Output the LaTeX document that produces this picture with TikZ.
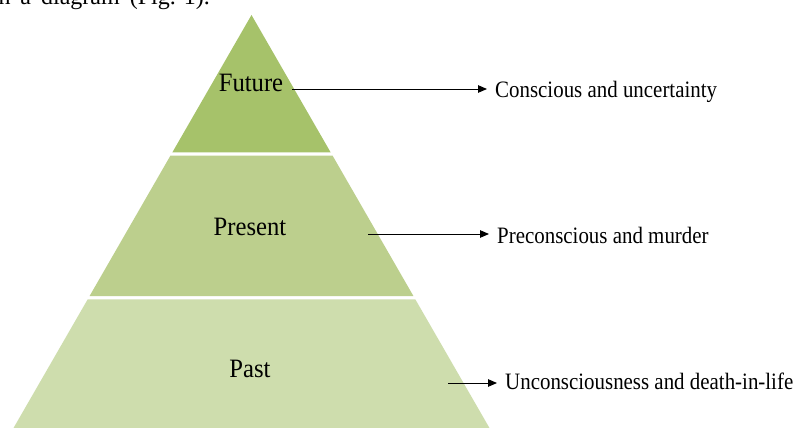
\documentclass[tikz,border=0pt]{standalone}
\usepackage{fontspec}
\setmainfont{Liberation Serif}
\usetikzlibrary{arrows.meta}
\definecolor{topg}{RGB}{166,194,106}
\definecolor{midg}{RGB}{188,207,141}
\definecolor{botg}{RGB}{206,221,173}
\newcommand{\plscale}[1]{\scalebox{0.93}[1]{#1}}
\newcommand{\rlscale}[1]{\scalebox{0.89}[1]{#1}}
\tikzset{
  plabel/.style={inner sep=0pt, font=\fontsize{26.5}{30}\selectfont},
  rlabel/.style={inner xsep=8pt, inner ysep=0pt, font=\fontsize{23.5}{27}\selectfont},
  toptext/.style={inner sep=0pt, font=\fontsize{24}{28}\selectfont},
  arr/.style={line width=0.9pt, -{Triangle[length=9pt,width=7.5pt]}}
}
\begin{document}
\begin{tikzpicture}[x=1pt,y=-1pt]
\useasboundingbox (0,0) rectangle (798,428);
\clip (0,0) rectangle (798,428);
\fill[white] (0,0) rectangle (798,428);
% partial line of text cut at the top
\node[toptext, anchor=base east] (top) at (210,5) {n\hspace{10pt}a\hspace{10pt}diagram\hspace{10pt}(Fig. 1).};
% pyramid layers
\fill[topg] (251.5,15) -- (330.6,152.3) -- (172.4,152.3) -- cycle;
\fill[midg] (170.4,155.7) -- (332.6,155.7) -- (413.4,296) -- (89.6,296) -- cycle;
\fill[botg] (87.7,299.3) -- (415.3,299.3) -- (496.4,440) -- (6.6,440) -- cycle;
% layer labels
\node[plabel, anchor=base] (future) at (251,92) {\plscale{Future}};
\node[plabel, anchor=base] (present) at (250,235) {\plscale{Present}};
\node[plabel, anchor=base] (past) at (250,377) {\plscale{Past}};
% right labels
\node[rlabel, anchor=base west] (conscious) at (487,97) {\rlscale{Conscious and uncertainty}};
\node[rlabel, anchor=base west] (precon) at (489,243) {\rlscale{Preconscious and murder}};
\node[rlabel, anchor=base west] (uncon) at (497,389) {\rlscale{Unconsciousness and death-in-life}};
% arrows
\coordinate (fs) at (292,89);
\coordinate (ps) at (368,234);
\coordinate (pas) at (448,383);
\draw[arr] (fs) -- (fs -| conscious.west);
\draw[arr] (ps) -- (ps -| precon.west);
\draw[arr] (pas) -- (pas -| uncon.west);
\end{tikzpicture}
\end{document}
